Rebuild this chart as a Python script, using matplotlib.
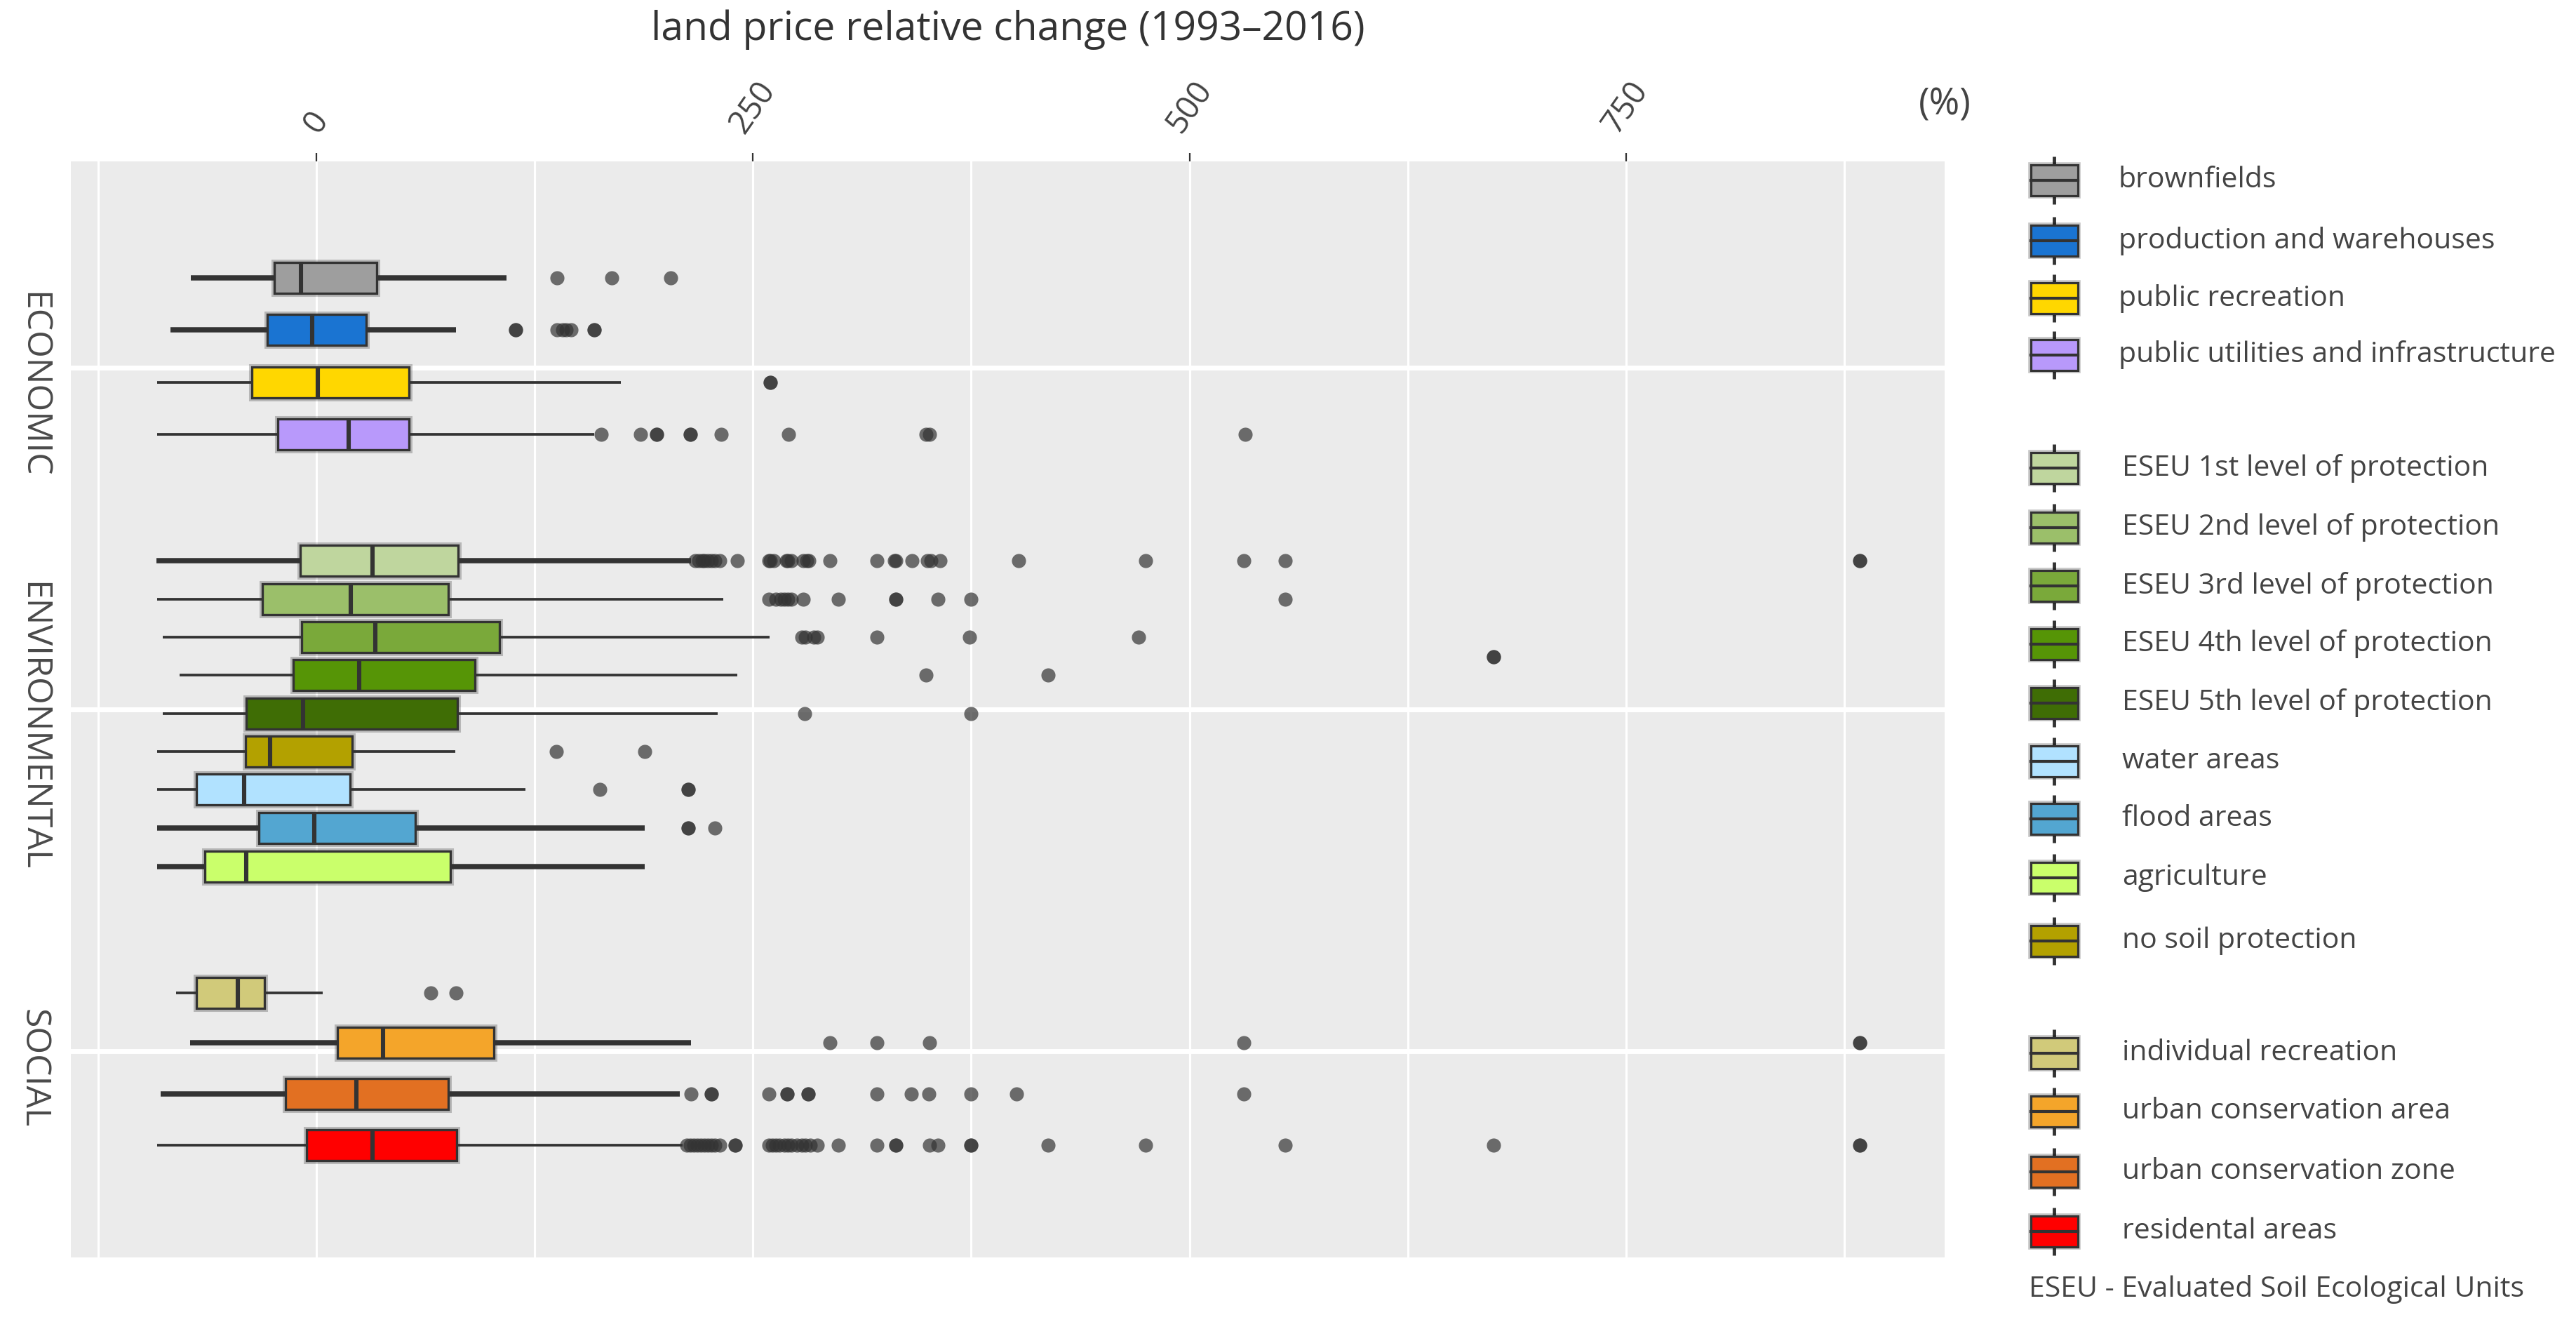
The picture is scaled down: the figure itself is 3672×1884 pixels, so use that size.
import matplotlib
matplotlib.use('Agg')
import matplotlib.pyplot as plt
import matplotlib.patheffects as pe
from matplotlib.patches import Rectangle
from matplotlib.lines import Line2D
from matplotlib.transforms import blended_transform_factory

plt.rcParams['font.family'] = ['Open Sans', 'DejaVu Sans']

# ---------------- data ----------------
groups = ['ECONOMIC', 'ENVIRONMENTAL', 'SOCIAL']

categories = [
    'brownfields', 'production and warehouses', 'public recreation',
    'public utilities and infrastructure',
    'ESEU 1st level of protection', 'ESEU 2nd level of protection',
    'ESEU 3rd level of protection', 'ESEU 4th level of protection',
    'ESEU 5th level of protection', 'no soil protection', 'water areas',
    'flood areas', 'agriculture',
    'individual recreation', 'urban conservation area',
    'urban conservation zone', 'residental areas',
]
category_group = [0, 0, 0, 0, 1, 1, 1, 1, 1, 1, 1, 1, 1, 2, 2, 2, 2]

colors = [
    '#9e9e9e', '#1a74d2', '#ffd700', '#b899fb',
    '#bfd69e', '#9bbf6a', '#7aa93a', '#569506', '#3f6d05',
    '#b3a100', '#b1e2ff', '#53a6d1', '#caff6b',
    '#d1ca7a', '#f4a52a', '#e27022', '#ff0000',
]

whislo = [-72, -83.5, -91, -91, -91.4, -91.2, -88, -78.5, -88, -91.2, -91.2, -91.2, -91.2,
          -80.5, -72.4, -89.3, -91.2]
q1 = [-24, -28, -37, -22, -9.4, -30.9, -8.6, -13.2, -40, -40.5, -68.5, -32.8, -63.8,
      -68.5, 12, -17.8, -5.5]
median = [-9, -2.5, 1, 18.5, 32.2, 19.8, 33.7, 24.5, -7.8, -26.7, -41.3, -1.3, -40,
          -45, 38.3, 22.9, 32]
q3 = [34.5, 28.5, 53, 53, 81.1, 75.6, 105, 90.6, 80.6, 20.6, 19.4, 56.7, 76.7,
      -29.7, 101.7, 75.6, 80.2]
whishi = [109, 80, 174.5, 159, 214.6, 233, 259.7, 241, 230, 79.4, 119.8, 188.2, 188.2,
          3.7, 214.7, 208, 209.7]

outliers = [
    [138, 169, 203],
    [114, 114, 138, 141, 143, 146, 159, 159],
    [260, 260],
    [163, 185.5, 195, 195, 214, 214, 232, 270.5, 349, 351, 532],
    [217, 219, 221, 222, 224, 226, 228, 231, 241, 259, 260, 262, 269, 270, 272,
     279, 281, 282, 294, 321, 331, 332, 341, 350, 352, 357, 402, 475, 531, 555, 884, 884],
    [259, 263, 266, 268, 270, 272, 279, 299, 332, 332, 356, 375, 555],
    [278, 280, 285, 287, 321, 374, 471],
    [349, 419],
    [279.6, 375],
    [137.4, 188.2],
    [162.4, 213, 213],
    [213, 213, 228],
    [],
    [65.6, 79.8],
    [294, 321, 351, 531, 884, 884],
    [214.7, 226.3, 226.3, 259.3, 269.5, 269.5, 281.6, 281.6, 320.8, 340.5, 350.8,
     375, 401, 531],
    [212, 214, 216, 218, 220, 222, 224, 226, 228, 231, 240, 240, 259, 261, 263, 265,
     268, 270, 272, 275, 278, 280, 283, 287, 299, 321, 332, 332, 351, 356, 375, 375,
     419, 475, 555, 674, 884, 884],
]

# a lone point drawn between the 3rd and 4th ESEU rows
stray_values = [674, 674]

legend_order = [0, 1, 2, 3, 4, 5, 6, 7, 8, 10, 11, 12, 9, 13, 14, 15, 16]
x_ticks = [0, 250, 500, 750]
x_minor = [-125, 125, 375, 625, 875]
title = 'land price relative change (1993\u20132016)'
unit_label = '(%)'
footnote = 'ESEU - Evaluated Soil Ecological Units'

# ---------------- layout / style ----------------
W, H, DPI = 3673, 1884, 100
offsets = [-0.263, -0.111, 0.043, 0.195,
           -0.435, -0.322, -0.2115, -0.1006, 0.0123, 0.123, 0.234, 0.347, 0.46,
           -0.170, -0.0246, 0.125, 0.275]
stray_offset = -0.155
box_h = 0.090
thick, thin = 5.4, 2.7
whisker_lw = [thick, thick, thin, thin, thick, thin, thin, thin, thin, thin, thin,
              thick, thick, thin, thick, thick, thin]
legend_y = [257, 343, 425, 506, 667, 752, 835, 918, 1002, 1085, 1167, 1251, 1341,
            1501, 1584, 1670, 1755]
text_col = '#444444'
dark = '#333333'

fig = plt.figure(figsize=(W / DPI, H / DPI), dpi=DPI)
fig.patch.set_facecolor('white')

ax_l, ax_r, ax_t, ax_b = 101, 2772, 230, 1792
ax = fig.add_axes([ax_l / W, 1 - ax_b / H, (ax_r - ax_l) / W, (ax_b - ax_t) / H])
ax.set_facecolor('#ebebeb')
for s in ax.spines.values():
    s.set_visible(False)

px_per_unit = 2.4891
x0_px = 451
ax.set_xlim((ax_l - x0_px) / px_per_unit, (ax_r - x0_px) / px_per_unit)
cat_px = 487.0
ax.set_ylim((ax_b - 524) / cat_px, (ax_t - 524) / cat_px)

ax.set_xticks(x_ticks)
ax.set_xticks(x_minor, minor=True)
ax.set_yticks([0, 1, 2])
ax.set_yticklabels([])
ax.set_axisbelow(True)
ax.grid(True, axis='x', which='both', color='white', linewidth=2.3)
ax.grid(True, axis='y', which='major', color='white', linewidth=5.0)

ax.xaxis.tick_top()
ax.tick_params(axis='x', which='major', top=True, bottom=False, labeltop=True,
               labelbottom=False, length=8.5, width=1.6, color=dark, pad=14,
               labelsize=33, labelcolor=text_col, labelrotation=55)
ax.tick_params(axis='x', which='minor', length=0, top=False, bottom=False)
ax.tick_params(axis='y', length=0)
for lab in ax.get_xticklabels():
    lab.set_horizontalalignment('center')
    lab.set_verticalalignment('bottom')

for i, name in enumerate(categories):
    st = dict(whislo=whislo[i], q1=q1[i], med=median[i], q3=q3[i],
              whishi=whishi[i], fliers=outliers[i], label=name)
    pos = category_group[i] + offsets[i]
    res = ax.bxp([st], positions=[pos], widths=box_h, orientation='horizontal',
                 patch_artist=True, showcaps=False, showfliers=True,
                 manage_ticks=False, zorder=3,
                 boxprops=dict(facecolor=colors[i], edgecolor=dark, linewidth=2.4),
                 medianprops=dict(color=dark, linewidth=4.4, solid_capstyle='butt'),
                 whiskerprops=dict(color=dark, linewidth=whisker_lw[i],
                                   solid_capstyle='butt'),
                 flierprops=dict(marker='o', markersize=14.5, markerfacecolor=dark,
                                 markeredgecolor='none', alpha=0.7))
    for b in res['boxes']:
        b.set_path_effects([pe.Stroke(linewidth=6.5, foreground='black', alpha=0.22),
                            pe.Normal()])

ax.plot(stray_values, [1 + stray_offset] * len(stray_values), linestyle='none',
        marker='o', markersize=14.5, markerfacecolor=dark, markeredgecolor='none',
        alpha=0.7, zorder=4)

btf = blended_transform_factory(ax.transAxes, ax.transData)
for g, name in enumerate(groups):
    ax.text((47 - ax_l) / (ax_r - ax_l), g + 0.05, name, transform=btf,
            rotation=-90, ha='center', va='center', fontsize=36,
            color='#4a4a4a')

# ---------------- overlay: title, unit, legend ----------------
lax = fig.add_axes([0, 0, 1, 1])
lax.set_xlim(0, W)
lax.set_ylim(H, 0)
lax.axis('off')
lax.patch.set_alpha(0)

lax.text((ax_l + ax_r) / 2, 42, title, ha='center', va='center', fontsize=41,
         color=dark)
lax.text(2772, 150, unit_label, ha='center', va='center', fontsize=38, color=text_col)

ix0, ix1 = 2895, 2962
icx = (ix0 + ix1) / 2
for k, idx in enumerate(legend_order):
    y = legend_y[k]
    lax.add_line(Line2D([icx, icx], [y - 34, y + 34], color=dark, linewidth=3.5,
                        solid_capstyle='butt', zorder=2))
    r = Rectangle((ix0, y - 22), ix1 - ix0, 44, facecolor=colors[idx],
                  edgecolor=dark, linewidth=2.3, zorder=3)
    r.set_path_effects([pe.Stroke(linewidth=5.5, foreground='black', alpha=0.22),
                        pe.Normal()])
    lax.add_patch(r)
    lax.add_line(Line2D([ix0, ix1], [y, y], color=dark, linewidth=3.0, zorder=4))
    tx = 3020 if k < 4 else 3025
    lax.text(tx, y, categories[idx], ha='left', va='center', fontsize=29.5,
             color=text_col)

lax.text(2892, 1838, footnote, ha='left', va='center', fontsize=29.5, color=text_col)

fig.savefig('out.png', dpi=DPI)
